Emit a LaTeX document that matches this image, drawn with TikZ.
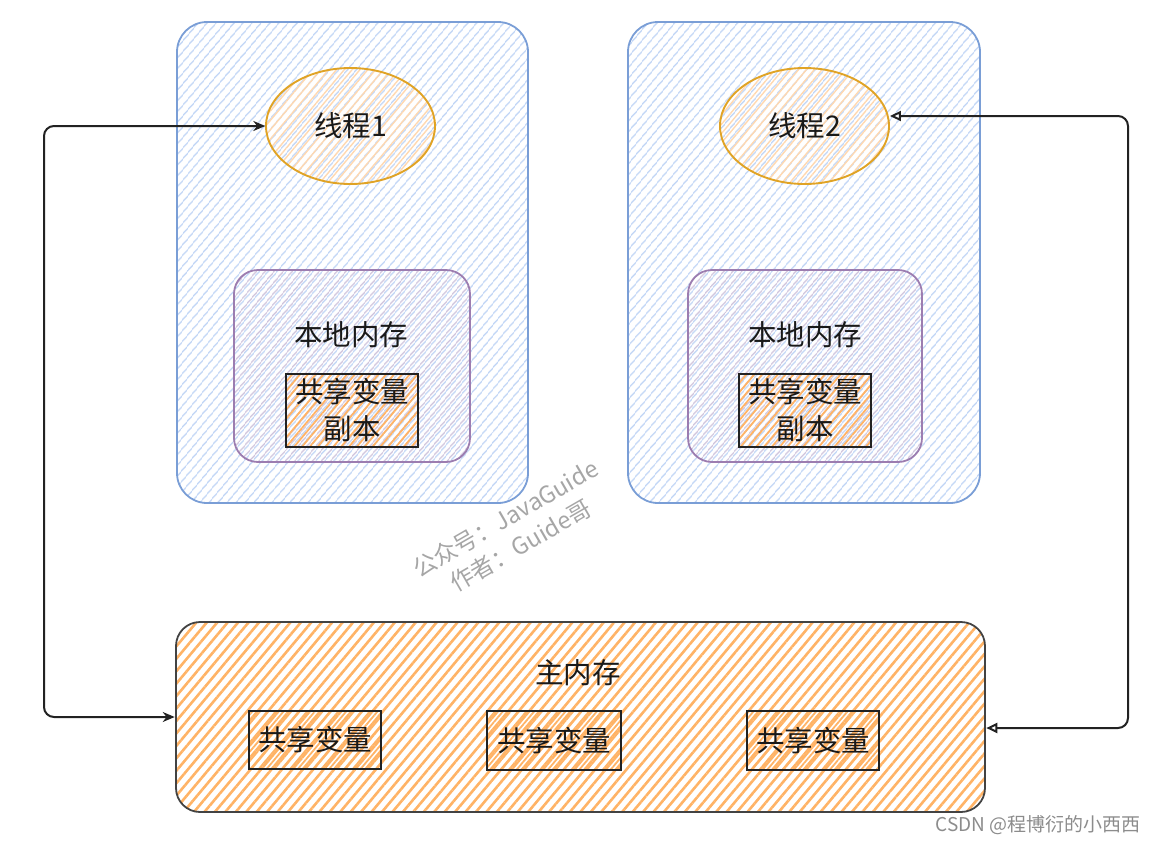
\documentclass[tikz,border=0pt]{standalone}
\usepackage{fontspec}
\setmainfont{Noto Sans CJK SC}
\newfontfamily\cjk{Noto Sans CJK SC}
\usetikzlibrary{patterns.meta,arrows.meta,shapes.geometric}
\definecolor{bluestroke}{HTML}{7A9ED6}
\definecolor{bluehatch}{HTML}{BFD4F5}
\definecolor{orstroke}{HTML}{E0A325}
\definecolor{orlight}{HTML}{FFD8B0}
\definecolor{purstroke}{HTML}{9C7DB0}
\definecolor{purhatch}{HTML}{CFC4DC}
\definecolor{orhatch}{HTML}{FFB366}
\definecolor{dark}{HTML}{222222}
\tikzset{
  threadbox/.style={draw=bluestroke, line width=1.8pt, rounded corners=30pt,
    pattern={Lines[angle=50,distance=6.5pt,line width=1.4pt]}, pattern color=bluehatch,
    minimum width=351pt, minimum height=481pt, inner sep=0pt},
  threadell/.style={ellipse, draw=orstroke, line width=1.9pt,
    pattern={Lines[angle=50,distance=6pt,line width=1.4pt]}, pattern color=orlight,
    minimum width=169pt, minimum height=116pt, inner sep=0pt},
  localbox/.style={draw=purstroke, line width=1.8pt, rounded corners=24pt,
    pattern={Lines[angle=50,distance=6.5pt,line width=1.3pt]}, pattern color=purhatch,
    minimum width=236pt, minimum height=192pt, inner sep=0pt},
  varbox/.style={draw=dark, line width=1.8pt,
    pattern={Lines[angle=50,distance=6pt,line width=1.8pt]}, pattern color=orhatch,
    inner sep=0pt},
  mainbox/.style={draw=dark!85, line width=1.8pt, rounded corners=24pt,
    pattern={Lines[angle=50,distance=8pt,line width=2.6pt]}, pattern color=orhatch,
    minimum width=809pt, minimum height=190pt, inner sep=0pt},
  lbl/.style={font=\fontsize{28.5}{37}\selectfont, text=black!90, align=center, inner sep=0pt},
  conn/.style={draw=dark, line width=2pt, rounded corners=10pt},
}
\begin{document}
\begin{tikzpicture}[x=1pt,y=-1pt]
\useasboundingbox (0,0) rectangle (1160,844);
% thread boxes
\node[threadbox] (t1) at (352.5,262.5) {};
\node[threadbox, minimum width=352pt] (t2) at (804,262.5) {};
% ellipses
\node[threadell] (e1) at (350.5,126) {};
\node[threadell] (e2) at (804.5,126) {};
\node[lbl] (e1t) at (350.5,126) {线程1};
\node[lbl] (e2t) at (804.5,126) {线程2};
% local memory
\node[localbox] (l1) at (352,366) {};
\node[localbox, minimum width=234pt] (l2) at (805,366) {};
\node[lbl] (l1t) at (351,335) {本地内存};
\node[lbl] (l2t) at (805,335) {本地内存};
\node[varbox, minimum width=132pt, minimum height=73pt] (c1) at (352,410.5) {};
\node[varbox, minimum width=132pt, minimum height=73pt] (c2) at (805,410.5) {};
\node[lbl] (c1t) at (352,410.5) {共享变量\\副本};
\node[lbl] (c2t) at (805,410.5) {共享变量\\副本};
% main memory
\node[mainbox] (m) at (580.5,717) {};
\node[lbl] (mt) at (578,673) {主内存};
\node[varbox, minimum width=132pt, minimum height=58pt] (s1) at (315,740) {};
\node[varbox, minimum width=134pt, minimum height=59pt] (s2) at (554,740.5) {};
\node[varbox, minimum width=132pt, minimum height=59pt] (s3) at (813,740.5) {};
\node[lbl] (s1t) at (315,740) {共享变量};
\node[lbl] (s2t) at (554,740.5) {共享变量};
\node[lbl] (s3t) at (813,740.5) {共享变量};
% connectors
\coordinate (a1) at (44,126);
\coordinate (a2) at (44,717);
\draw[conn, {Stealth[length=12pt,width=10pt]}-{Stealth[length=12pt,width=10pt]}]
  (m.west) -- (a2) -- (a1) -- (e1.west);
\coordinate (b0) at ([yshift=10pt]e2.east);
\coordinate (b1) at (1128,116);
\coordinate (b2) at (1128,728);
\coordinate (b3) at ([yshift=-11pt]m.east);
\draw[conn, {Triangle[open,length=11pt,width=10pt]}-{Triangle[open,length=11pt,width=10pt]}]
  (b0) -- (b1) -- (b2) -- (b3);
% watermark
\node[rotate=30, text=black!35, font=\fontsize{23.5}{31}\selectfont, align=center, inner sep=0pt] (wm) at (513,532) {公众号：JavaGuide\\作者：Guide哥};
% csdn
\node[text=black!45, font=\fontsize{19}{22}\selectfont, inner sep=0pt] (csdn) at (1038,825) {CSDN @程博衍的小西西};
\end{tikzpicture}
\end{document}
